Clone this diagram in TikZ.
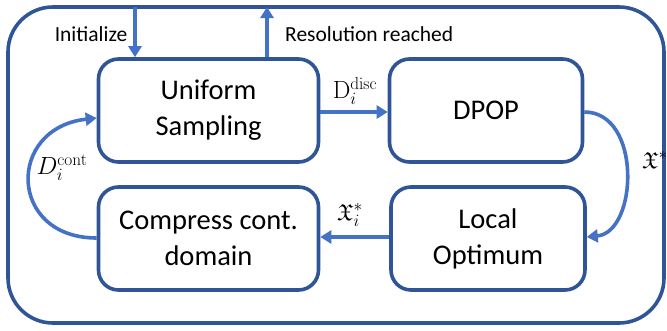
\documentclass[tikz,border=0pt]{standalone}
\usepackage[no-math]{fontspec}
\setmainfont{Carlito}
\usepackage{amsfonts}
\usetikzlibrary{arrows.meta}
\definecolor{boxblue}{HTML}{2F5597}
\definecolor{arrowblue}{HTML}{4472C4}
\tikzset{
  stagebox/.style={draw=boxblue, line width=3.6pt, rounded corners=20pt,
    minimum width=220pt, minimum height=103pt, align=center,
    font=\fontsize{28.5}{36}\selectfont, inner sep=0pt},
  flow/.style={draw=arrowblue, line width=3.6pt,
    -{Triangle[length=11pt,width=13pt]}},
  lbl/.style={font=\fontsize{21.5}{24}\selectfont, inner sep=0pt},
  mlbl/.style={font=\fontsize{23}{26}\selectfont, inner sep=0pt}
}
\begin{document}
\begin{tikzpicture}[x=1pt,y=-1pt]
\useasboundingbox (0,0) rectangle (667,330);
% outer frame
\draw[boxblue, line width=3.6pt, rounded corners=45pt] (8,7) rectangle (664,323);
% stages
\node[stagebox] (unif) at (208.5,110.5) {Uniform\\Sampling};
\node[stagebox, minimum width=193pt] (dpop) at (486,110.5) {DPOP};
\node[stagebox] (comp) at (208.5,238.5) {Compress cont.\\domain};
\node[stagebox, minimum width=194pt] (loc) at (488,238.5) {Local\\Optimum};
% entry and exit points on the frame
\coordinate (initTop) at (135,7);
\coordinate (resTop) at (267,7);
\draw[flow] (initTop) -- (initTop |- unif.north);
\draw[flow] (resTop |- unif.north) -- (resTop);
\node[lbl] (initL) at (91,34) {Initialize};
\node[lbl, anchor=west] (resL) at (285,34) {Resolution reached};
% discrete domain to DPOP
\draw[flow] (unif.east |- 0,112) -- (dpop.west |- 0,112);
\node[mlbl] (discL) at (355,91) {$\mathrm{D}_i^{\mathrm{disc}}$};
% DPOP solution to local optimisation
\draw[flow] (dpop.east |- 0,112) .. controls (642,112) and (638,232) .. (loc.east |- 0,237);
\node[mlbl] (solL) at (655,160) {$\mathfrak{X}^{*}$};
% local optimum to compression
\draw[flow] (loc.west |- 0,237) -- (comp.east |- 0,237);
\node[mlbl] (locL) at (350,215) {$\mathfrak{X}_i^{*}$};
% compressed domain back to sampling
\draw[flow] (comp.west |- 0,238) .. controls (8,238) and (6,128) .. (unif.west |- 0,118);
\node[mlbl] (contL) at (62,168) {$D_i^{\mathrm{cont}}$};
\end{tikzpicture}
\end{document}
